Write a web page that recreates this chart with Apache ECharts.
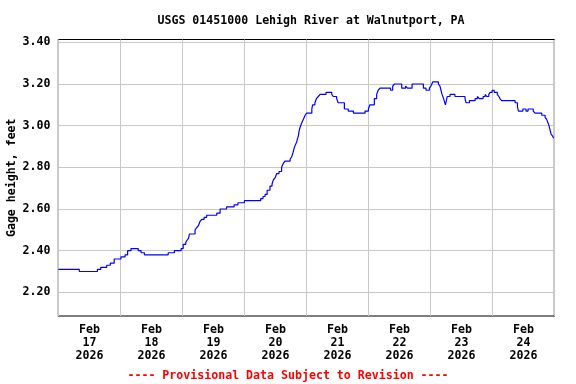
<!DOCTYPE html>
<html>
<head>
<meta charset="utf-8">
<script src="https://cdn.jsdelivr.net/npm/echarts@6/dist/echarts.min.js"></script>
<style>html,body{margin:0;padding:0;background:#fff}#c{width:576px;height:384px}</style>
</head>
<body>
<div id="c"></div>
<script>
// hours since Feb 17 2026 00:00
var hours = [0,8.1,15.1,16.4,18.7,20.1,21.6,24.2,25.8,26.8,28.1,30.9,32.0,33.3,42.5,44.9,47.5,48.3,49.3,49.8,50.4,50.7,52.9,53.5,54.2,54.8,55.5,56.4,57.4,61.3,62.6,65.1,68.0,69.5,72.0,78.3,79.2,80.0,80.8,81.9,82.7,83.2,83.9,84.5,85.4,86.4,87.1,87.7,89.7,90.3,90.8,91.2,91.8,92.2,92.6,92.9,93.1,93.5,94.1,94.8,95.5,96.1,98.1,98.4,99.3,99.9,100.6,101.3,103.6,105.8,106.4,107.7,108.3,110.7,112.2,114.2,118.7,120.0,120.6,122.3,123.2,123.8,124.5,128.6,129.4,130.1,132.9,134.4,135.1,136.9,141.3,142.3,143.6,144.2,144.9,147.1,147.7,148.1,148.5,149.1,149.8,150.2,150.5,151.6,153.5,157.4,157.8,159.1,161.3,162.2,162.9,164.4,165.2,165.8,166.6,167.1,167.9,168.7,169.9,170.5,170.9,171.6,176.8,177.7,178.1,179.8,181.0,181.8,183.8,184.5,187.1,188.4,189.0,189.6,189.9,190.3,190.7,191.3,191.7];
var gage = [2.31,2.30,2.31,2.32,2.33,2.34,2.36,2.37,2.38,2.40,2.41,2.40,2.39,2.38,2.39,2.40,2.41,2.43,2.44,2.45,2.46,2.48,2.50,2.51,2.52,2.54,2.55,2.56,2.57,2.58,2.60,2.61,2.62,2.63,2.64,2.65,2.66,2.67,2.69,2.71,2.72,2.74,2.75,2.77,2.78,2.80,2.82,2.83,2.84,2.85,2.87,2.89,2.91,2.92,2.94,2.95,2.97,2.99,3.01,3.03,3.05,3.06,3.08,3.10,3.11,3.13,3.14,3.15,3.16,3.15,3.14,3.13,3.11,3.08,3.07,3.06,3.07,3.08,3.10,3.13,3.15,3.17,3.18,3.17,3.19,3.20,3.18,3.19,3.18,3.20,3.18,3.17,3.18,3.19,3.21,3.20,3.19,3.17,3.15,3.13,3.10,3.12,3.14,3.15,3.14,3.13,3.11,3.12,3.13,3.14,3.13,3.14,3.15,3.14,3.15,3.16,3.17,3.16,3.15,3.14,3.13,3.12,3.11,3.09,3.07,3.08,3.07,3.08,3.07,3.06,3.05,3.04,3.03,3.01,3.00,2.98,2.96,2.95,2.94];
var yTicks = [2.2,2.4,2.6,2.8,3.0,3.2,3.4];
var xLabelHours = [12,36,60,84,108,132,156,180];
var xLabels = ['Feb\n17\n2026','Feb\n18\n2026','Feb\n19\n2026','Feb\n20\n2026','Feb\n21\n2026','Feb\n22\n2026','Feb\n23\n2026','Feb\n24\n2026'];
var titleText = 'USGS 01451000 Lehigh River at Walnutport, PA';
var yName = 'Gage height, feet';
var noteText = '---- Provisional Data Subject to Revision ----';

var FONT = '"DejaVu Sans Mono", monospace';
var data = hours.map(function(h,i){return [h,gage[i]];});
var chart = echarts.init(document.getElementById('c'), null, {renderer:'canvas'});
chart.setOption({
  animation:false,
  backgroundColor:'#fff',
  title:{text:titleText,left:306,top:10,textAlign:'center',
    textStyle:{fontFamily:FONT,fontSize:11.6,fontWeight:'bold',color:'#000'}},
  grid:{left:58.4,right:21.6,top:39.5,bottom:68,show:true,borderColor:'#000',borderWidth:1.2,
    containLabel:false,outerBoundsMode:'none'},
  xAxis:{type:'value',min:0,max:192,interval:24,
    axisLine:{show:false},axisTick:{show:false},
    splitLine:{show:true,lineStyle:{color:'#c8c8c8',width:1}},
    axisLabel:{customValues:xLabelHours,margin:7.5,lineHeight:13,
      fontFamily:FONT,fontSize:11.6,fontWeight:'bold',color:'#000',
      formatter:function(v){var i=xLabelHours.indexOf(v);return i>=0?xLabels[i]:'';}}},
  yAxis:{type:'value',min:2.0865,max:3.4135,
    name:yName,nameLocation:'middle',nameRotate:90,nameGap:40.5,nameMoveOverlap:false,
    nameTextStyle:{fontFamily:FONT,fontSize:11.6,fontWeight:'bold',color:'#000'},
    axisLine:{show:false},
    axisTick:{show:false,customValues:yTicks},
    splitLine:{show:true,lineStyle:{color:'#c8c8c8',width:1}},
    axisLabel:{customValues:yTicks,margin:8,fontFamily:FONT,fontSize:11.6,fontWeight:'bold',color:'#000',
      formatter:function(v){return v.toFixed(2);}}},
  graphic:[{type:'text',left:'center',top:369.5,
    style:{text:noteText,x:0,fill:'#ff0000',font:'bold 11.6px '+FONT}}],
  series:[{type:'line',data:data,step:'end',showSymbol:false,
    lineStyle:{color:'#0000ff',width:1.2},itemStyle:{color:'#0000ff'}}]
});
</script>
</body>
</html>
